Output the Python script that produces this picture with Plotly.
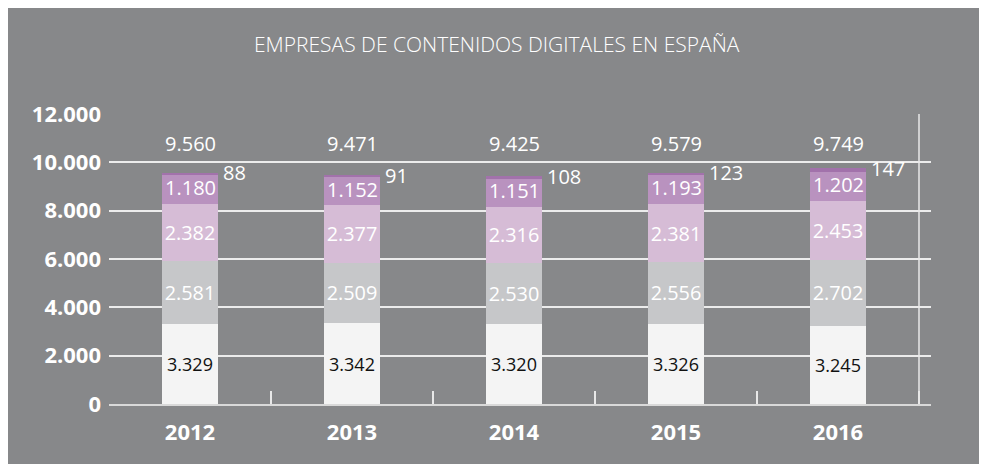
import plotly.graph_objects as go

years = ["2012", "2013", "2014", "2015", "2016"]
seg1 = [3329, 3342, 3320, 3326, 3245]
seg2 = [2581, 2509, 2530, 2556, 2702]
seg3 = [2382, 2377, 2316, 2381, 2453]
seg4 = [1180, 1152, 1151, 1193, 1202]
seg5 = [88, 91, 108, 123, 147]
totals = [9560, 9471, 9425, 9579, 9749]
y_ticks = [0, 2000, 4000, 6000, 8000, 10000, 12000]

colors = ["#f4f4f4", "#c6c7c9", "#d6bcd6", "#b992bf", "#a272ab"]
BG = "#87888a"
FONT = "Open Sans"
BAR_W = 0.35
TOTAL_LABEL_Y = 10800
CAT_PX = 162


def fmt(v):
    return f"{v:,}".replace(",", ".")


fig = go.Figure()
series = [seg1, seg2, seg3, seg4, seg5]
for k, vals in enumerate(series):
    if k == 0:
        tfont = dict(family=FONT, size=18, color="#111111")
    else:
        tfont = dict(family=FONT, size=20, color="white")
    show_text = k < 3
    fig.add_trace(go.Bar(
        x=years, y=vals, width=BAR_W,
        marker=dict(color=colors[k], line=dict(width=0)),
        texttemplate="%{y:,.0f}" if show_text else "",
        textposition="inside" if show_text else "none",
        insidetextanchor="middle", textangle=0,
        textfont=tfont, showlegend=False, hoverinfo="skip",
    ))

for i, yr in enumerate(years):
    base4 = seg1[i] + seg2[i] + seg3[i]
    fig.add_annotation(x=i, y=base4 + seg4[i] / 2, text=fmt(seg4[i]), showarrow=False,
                       font=dict(family=FONT, size=20, color="white"),
                       xanchor="center", yanchor="middle", yshift=2)
    fig.add_annotation(x=i, y=TOTAL_LABEL_Y, text=fmt(totals[i]),
                       showarrow=False, font=dict(family=FONT, size=20, color="white"),
                       xanchor="center", yanchor="middle")
    fig.add_annotation(x=i, y=totals[i], text=f"{seg5[i]}", showarrow=False,
                       font=dict(family=FONT, size=20, color="white"),
                       xanchor="left", yanchor="middle", xshift=BAR_W * CAT_PX / 2 + 3)

# figure is placed at (8,8) in the page (default body margin)
L, R, T, B = 101, 56, 106, 60
W, H = 979, 456
pw, ph = W - L - R, H - T - B

# right boundary line
fig.add_shape(type="line", xref="x", yref="y", x0=4.5, x1=4.5, y0=0, y1=12000,
              line=dict(color="#e8e8e8", width=1.5), layer="above")

fig.add_annotation(text="EMPRESAS DE CONTENIDOS DIGITALES EN ESPAÑA",
                   xref="paper", yref="paper", x=(489 - L) / pw, y=(396 - 36.5) / ph,
                   showarrow=False, xanchor="center", yanchor="middle",
                   font=dict(family=FONT, size=21, color="white", weight=300))

fig.update_layout(
    width=W, height=H, margin=dict(l=L, r=R, t=T, b=B, pad=0),
    paper_bgcolor=BG, plot_bgcolor=BG,
    barmode="stack", separators=",.",
    font=dict(family=FONT, color="white"),
    xaxis=dict(type="category", range=[-0.5, -0.5 + pw / CAT_PX], tickson="boundaries",
               ticks="inside", ticklen=13, tickwidth=1.5, tickcolor="#e8e8e8",
               showgrid=False, showline=True, linecolor="#d9d9d9", linewidth=2,
               ticklabelstandoff=8,
               tickfont=dict(family=FONT, size=22, color="white", weight="bold"),
               fixedrange=True),
    yaxis=dict(range=[0, 12000], tickvals=y_ticks, tickformat=",.0f",
               showgrid=True, gridcolor="#ececec", gridwidth=1.5, zeroline=False,
               showline=False, ticks="", ticklabelstandoff=7,
               tickfont=dict(family=FONT, size=22, color="white", weight="bold"),
               fixedrange=True),
)

fig.write_html("out.html")
